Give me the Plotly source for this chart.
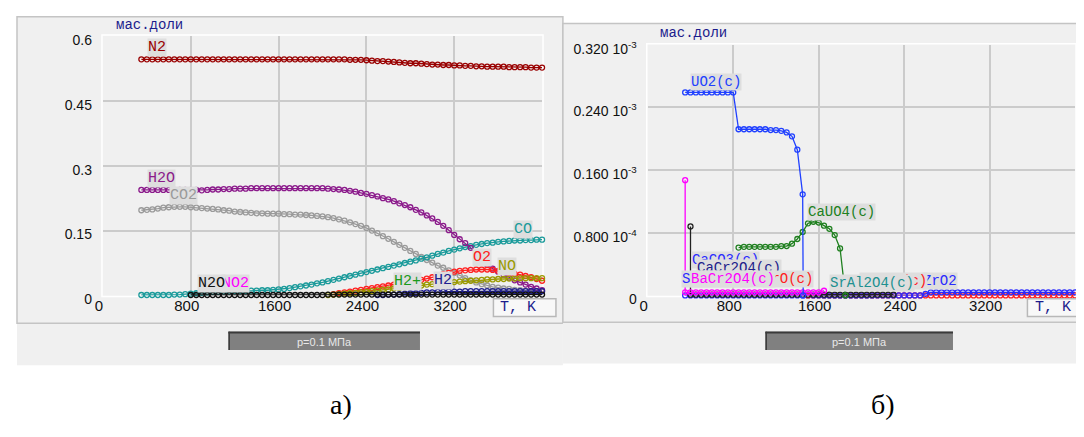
import plotly.graph_objects as go

OFF = 8  # the page body has an 8 px margin; positions below are page pixels
W, H = 1084 - OFF, 437 - 2 * OFF

# ---------------- panel а) : mass fractions of gas species ----------------
T_a = list(range(350, 4001, 50))  # temperature grid, K (74 points)

N2 = [0.546, 0.546, 0.546, 0.546, 0.546, 0.546, 0.546, 0.546, 0.546, 0.546,
      0.546, 0.546, 0.546, 0.546, 0.546, 0.546, 0.546, 0.546, 0.546, 0.546,
      0.546, 0.546, 0.546, 0.546, 0.546, 0.546, 0.546, 0.546, 0.546, 0.546,
      0.546, 0.546, 0.546, 0.546, 0.546, 0.546, 0.546, 0.546, 0.545, 0.545,
      0.545, 0.544, 0.543, 0.542, 0.542, 0.541, 0.540, 0.539, 0.538, 0.537,
      0.537, 0.536, 0.535, 0.534, 0.534, 0.533, 0.533, 0.532, 0.532, 0.531,
      0.531, 0.530, 0.530, 0.529, 0.529, 0.529, 0.529, 0.528, 0.528, 0.528,
      0.528, 0.527, 0.527, 0.527]

H2O = [0.244, 0.244, 0.244, 0.244, 0.244, 0.244, 0.244, 0.244, 0.244, 0.244,
       0.244, 0.243, 0.244, 0.245, 0.245, 0.246, 0.246, 0.247, 0.247, 0.247,
       0.248, 0.248, 0.248, 0.248, 0.248, 0.248, 0.248, 0.248, 0.248, 0.248,
       0.248, 0.248, 0.248, 0.248, 0.247, 0.246, 0.245, 0.244, 0.242, 0.240,
       0.237, 0.235, 0.232, 0.229, 0.225, 0.222, 0.218, 0.213, 0.209, 0.204,
       0.198, 0.192, 0.185, 0.178, 0.170, 0.161, 0.151, 0.140, 0.130, 0.121,
       0.110, 0.098, 0.085, 0.071, 0.062, 0.055, 0.048, 0.041, 0.035, 0.030,
       0.025, 0.020, 0.016, 0.012]

CO2 = [0.197, 0.198, 0.199, 0.201, 0.203, 0.204, 0.205, 0.205, 0.205, 0.204,
       0.203, 0.202, 0.201, 0.200, 0.199, 0.197, 0.196, 0.194, 0.193, 0.192,
       0.191, 0.190, 0.190, 0.189, 0.189, 0.189, 0.188, 0.188, 0.187, 0.187,
       0.186, 0.185, 0.184, 0.183, 0.181, 0.179, 0.176, 0.173, 0.169, 0.165,
       0.161, 0.156, 0.150, 0.144, 0.137, 0.131, 0.124, 0.117, 0.110, 0.103,
       0.096, 0.089, 0.082, 0.076, 0.069, 0.064, 0.058, 0.052, 0.046, 0.040,
       0.035, 0.030, 0.026, 0.023, 0.020, 0.018, 0.016, 0.015, 0.013, 0.012,
       0.011, 0.010, 0.009, 0.009]

CO = [0.001, 0.001, 0.001, 0.001, 0.001, 0.001, 0.002, 0.002, 0.003, 0.004,
      0.005, 0.006, 0.007, 0.008, 0.008, 0.009, 0.009, 0.010, 0.010, 0.010,
      0.011, 0.011, 0.012, 0.012, 0.013, 0.014, 0.015, 0.017, 0.019, 0.021,
      0.023, 0.025, 0.028, 0.030, 0.033, 0.036, 0.039, 0.042, 0.045, 0.048,
      0.051, 0.054, 0.057, 0.060, 0.063, 0.066, 0.069, 0.072, 0.075, 0.078,
      0.081, 0.085, 0.088, 0.092, 0.096, 0.099, 0.103, 0.106, 0.109, 0.112,
      0.114, 0.117, 0.119, 0.121, 0.122, 0.124, 0.125, 0.126, 0.127, 0.127,
      0.128, 0.128, 0.129, 0.129]

T_O2 = list(range(2100, 4001, 50))
O2 = [0.003, 0.005, 0.007, 0.009, 0.011, 0.013, 0.015, 0.017, 0.019, 0.021,
      0.023, 0.025, 0.027, 0.029, 0.031, 0.034, 0.036, 0.039, 0.042, 0.045,
      0.049, 0.052, 0.055, 0.057, 0.058, 0.059, 0.060, 0.060, 0.060, 0.059,
      0.057, 0.055, 0.052, 0.050, 0.048, 0.045, 0.042, 0.038, 0.034]

T_NO = list(range(2050, 4001, 50))
NO = [0.001, 0.002, 0.003, 0.004, 0.005, 0.006, 0.007, 0.008, 0.010, 0.011,
      0.013, 0.014, 0.016, 0.017, 0.019, 0.020, 0.022, 0.023, 0.025, 0.026,
      0.028, 0.029, 0.030, 0.031, 0.032, 0.033, 0.034, 0.035, 0.036, 0.037,
      0.037, 0.038, 0.038, 0.039, 0.039, 0.040, 0.040, 0.040, 0.040, 0.040]

T_H2 = list(range(2500, 4001, 50))
H2 = [0.001, 0.001, 0.002, 0.002, 0.003, 0.004, 0.005, 0.005, 0.006, 0.007,
      0.007, 0.008, 0.008, 0.009, 0.009, 0.009, 0.010, 0.010, 0.010, 0.010,
      0.010, 0.010, 0.010, 0.010, 0.010, 0.010, 0.010, 0.010, 0.010, 0.010,
      0.010]

T_N2O = list(range(800, 4001, 50))
N2O = [0.001, 0.001, 0.001, 0.001, 0.001, 0.001, 0.001, 0.001, 0.001, 0.001, 0.001,
       0.001, 0.001, 0.001, 0.001, 0.001, 0.001, 0.001, 0.001, 0.001, 0.001,
       0.001, 0.001, 0.001, 0.001, 0.002, 0.002, 0.002, 0.002, 0.002, 0.002,
       0.002, 0.002, 0.002, 0.002, 0.002, 0.002, 0.002, 0.002, 0.002, 0.002,
       0.002, 0.002, 0.002, 0.002, 0.002, 0.002, 0.002, 0.002, 0.002, 0.002,
       0.002, 0.002, 0.002, 0.002, 0.002, 0.002, 0.002, 0.002, 0.002, 0.002,
       0.002, 0.002, 0.002, 0.002]

# ---------------- panel б) : condensed phases, units of 10^-3 ----------------
T_UO2 = [350, 400, 450, 500, 550, 600, 650, 700, 750, 800,
         850, 900, 950, 1000, 1050, 1100, 1150, 1200, 1250, 1300,
         1350, 1400, 1450, 1455]
UO2 = [0.259, 0.259, 0.259, 0.259, 0.259, 0.259, 0.259, 0.259, 0.259, 0.259,
       0.212, 0.212, 0.212, 0.212, 0.212, 0.212, 0.211, 0.211, 0.210, 0.208,
       0.203, 0.186, 0.129, 0.000]

T_CaUO4 = list(range(850, 1851, 50))
CaUO4 = [0.061, 0.062, 0.062, 0.062, 0.062, 0.062, 0.062, 0.062, 0.063, 0.063,
         0.066, 0.072, 0.081, 0.092, 0.094, 0.093, 0.089, 0.085, 0.077, 0.060,
         0.000]

T_BaCr2O4 = [350, 350, 400, 450, 500, 550, 600, 650, 700, 750, 800, 850, 900, 950,
             1000, 1050, 1100, 1150, 1200, 1250, 1300, 1350, 1400, 1450, 1500,
             1550, 1600, 1650]
BaCr2O4 = [0.147, 0.004, 0.004, 0.004, 0.004, 0.004, 0.004, 0.004, 0.004, 0.004,
           0.004, 0.004, 0.004, 0.004, 0.004, 0.004, 0.004, 0.004, 0.004, 0.004,
           0.004, 0.004, 0.004, 0.004, 0.004, 0.004, 0.004, 0.006]

T_BLK = [400] + list(range(400, 2301, 50))
BLK = [0.088, 0.001, 0.001, 0.001, 0.001, 0.001, 0.001, 0.001, 0.001, 0.001,
       0.001, 0.001, 0.001, 0.001, 0.001, 0.001, 0.001, 0.001, 0.001, 0.001,
       0.001, 0.001, 0.001, 0.001, 0.001, 0.001, 0.001, 0.001, 0.001, 0.001,
       0.001, 0.001, 0.001, 0.001, 0.001, 0.001, 0.001, 0.001, 0.001, 0.001]

T_CaCO3 = list(range(350, 1501, 50))
CaCO3 = [0.000, 0.000, 0.000, 0.000, 0.000, 0.000, 0.000, 0.000, 0.000, 0.000,
         0.000, 0.000, 0.000, 0.000, 0.000, 0.000, 0.000, 0.000, 0.000, 0.000,
         0.000, 0.000, 0.000, 0.000]

T_SrAl2O4 = list(range(1650, 2101, 50))
SrAl2O4 = [0.000, 0.000, 0.000, 0.000, 0.000, 0.000, 0.000, 0.000, 0.000, 0.000]

T_RED = list(range(1500, 4001, 50))
RED = [0.000, 0.000, 0.000, 0.000, 0.000, 0.000, 0.000, 0.000, 0.000, 0.000,
       0.000, 0.000, 0.000, 0.000, 0.000, 0.000, 0.000, 0.000, 0.000, 0.000,
       0.000, 0.000, 0.000, 0.000, 0.000, 0.000, 0.000, 0.000, 0.000, 0.000,
       0.000, 0.000, 0.000, 0.000, 0.000, 0.000, 0.000, 0.000, 0.000, 0.000,
       0.000, 0.000, 0.000, 0.000, 0.000, 0.000, 0.000, 0.000, 0.000, 0.000,
       0.000]

T_ZrO2 = list(range(1550, 4001, 50))
ZrO2 = [0.000, 0.000, 0.000, 0.000, 0.000, 0.000, 0.000, 0.000, 0.000, 0.000,
        0.000, 0.000, 0.000, 0.000, 0.000, 0.000, 0.000, 0.000, 0.000, 0.000,
        0.000, 0.002, 0.004, 0.004, 0.004, 0.004, 0.004, 0.004, 0.004, 0.004,
        0.004, 0.004, 0.004, 0.004, 0.004, 0.004, 0.004, 0.004, 0.004, 0.004,
        0.004, 0.004, 0.004, 0.004, 0.004, 0.004, 0.004, 0.004, 0.004, 0.004]

# tick labels
X_TICKS = [0, 800, 1600, 2400, 3200]
X_TEXT = ["0", "800", "1600", "2400", "3200"]
YA_TICKS = [0, 0.15, 0.3, 0.45, 0.6]
YA_TEXT = ["0", "0.15", "0.3", "0.45", "0.6"]
YB_TICKS = [0, 0.08, 0.16, 0.24, 0.32]
YB_TEXT = ["0", "0.800 10<sup>-4</sup>", "0.160 10<sup>-3</sup>",
           "0.240 10<sup>-3</sup>", "0.320 10<sup>-3</sup>"]

PLOT_BG = "#dedede"
PANEL_BG = "#f0f0f0"
GRID = "#cbcbcb"
TITLE_BLUE = "#1c1c8c"
MONO = "Liberation Mono, DejaVu Sans Mono"


def px(x):
    return (x - OFF) / W


def py(y):
    return 1 - (y - OFF) / H


fig = go.Figure()


def add_series(x, y, color, xa, ya):
    fig.add_trace(go.Scatter(
        x=x, y=y, mode="lines+markers", xaxis=xa, yaxis=ya,
        line=dict(color=color, width=1.3),
        marker=dict(symbol="circle-open", size=5, color=color,
                    line=dict(width=1.3, color=color)),
        cliponaxis=False, showlegend=False, hoverinfo="skip"))


# panel а traces
add_series(T_a, CO2, "#9a9a9a", "x", "y")
add_series(T_a, CO, "#1a9a9a", "x", "y")
add_series(T_a, H2O, "#8b1a8b", "x", "y")
add_series(T_O2, O2, "#ff2020", "x", "y")
add_series(T_NO, NO, "#9a9a00", "x", "y")
add_series(T_H2, H2, "#202090", "x", "y")
add_series(T_a, N2, "#990000", "x", "y")
add_series(T_N2O, N2O, "#111111", "x", "y")

# panel б traces
add_series(T_CaCO3, CaCO3, "#2a2aff", "x2", "y2")
add_series(T_SrAl2O4, SrAl2O4, "#209090", "x2", "y2")
add_series(T_RED, RED, "#ff2020", "x2", "y2")
add_series(T_ZrO2, ZrO2, "#2a2aff", "x2", "y2")
add_series(T_BLK, BLK, "#222222", "x2", "y2")
add_series(T_BaCr2O4, BaCr2O4, "#ff00ff", "x2", "y2")
add_series(T_CaUO4, CaUO4, "#208020", "x2", "y2")
add_series(T_UO2, UO2, "#2040ff", "x2", "y2")

xcommon = dict(range=[0, 4000], tickvals=X_TICKS, ticktext=X_TEXT, showgrid=True,
               gridcolor=GRID, gridwidth=1.5, zeroline=False, showline=False,
               ticks="", tickfont=dict(family="Liberation Sans", size=15, color="#111"),
               ticklabelshift=-4, fixedrange=True)
ycommon = dict(showgrid=True, gridcolor=GRID, gridwidth=1.5, zeroline=False,
               showline=False, ticks="", ticklabelstandoff=10, ticklabelshift=4,
               tickfont=dict(family="Liberation Sans", size=14, color="#111"),
               fixedrange=True)

shapes = []
# panel frames
shapes.append(dict(type="rect", xref="paper", yref="paper", layer="below",
                   x0=px(9), x1=px(559), y0=py(331), y1=py(11),
                   fillcolor=PANEL_BG, line=dict(color="#c4c4c4", width=1.5)))
shapes.append(dict(type="rect", xref="paper", yref="paper", layer="below",
                   x0=px(559), x1=px(1083.5), y0=py(330), y1=py(18),
                   fillcolor=PANEL_BG, line=dict(color="#c4c4c4", width=1.5)))
# bottom strips
shapes.append(dict(type="rect", xref="paper", yref="paper", layer="below",
                   x0=px(9), x1=px(559), y0=py(375), y1=py(331.8),
                   fillcolor=PANEL_BG, line=dict(width=0)))
shapes.append(dict(type="rect", xref="paper", yref="paper", layer="below",
                   x0=px(559), x1=px(1084), y0=py(373), y1=py(330.8),
                   fillcolor=PANEL_BG, line=dict(width=0)))
# pressure buttons
for bx0, bx1 in [(222, 415), (763, 952)]:
    shapes.append(dict(type="rect", xref="paper", yref="paper", layer="below",
                       x0=px(bx0), x1=px(bx1), y0=py(359), y1=py(340),
                       fillcolor="#808080", line=dict(width=0)))
    shapes.append(dict(type="line", xref="paper", yref="paper", layer="below",
                       x0=px(bx0), x1=px(bx1), y0=py(340.8), y1=py(340.8),
                       line=dict(color="#3a3a3a", width=2)))
    shapes.append(dict(type="line", xref="paper", yref="paper", layer="below",
                       x0=px(bx0 + 0.8), x1=px(bx0 + 0.8), y0=py(359), y1=py(340),
                       line=dict(color="#3a3a3a", width=1.5)))
# "T, K" boxes
for bx0, bx1 in [(489, 552), (1027, 1083)]:
    shapes.append(dict(type="rect", xref="paper", yref="paper", layer="above",
                       x0=px(bx0), x1=px(bx1), y0=py(324), y1=py(305.5),
                       fillcolor="#f8f8f8", line=dict(color="#b8b8b8", width=1.5)))
# white border around plot areas
for x0, x1, y0, y1 in [(95.6, 538, 302, 31), (644.5, 1075, 302, 40)]:
    shapes.append(dict(type="rect", xref="paper", yref="paper", layer="below",
                       x0=px(x0 - 1), x1=px(x1 + 1), y0=py(y0 + 1), y1=py(y1 - 1),
                       fillcolor="rgba(0,0,0,0)", line=dict(color="white", width=1.5)))

ann = []


def label(text, x, y, color, xa, ya, size, xanchor="left"):
    ann.append(dict(text=text, x=x, y=y, xref=xa, yref=ya, showarrow=False,
                    xanchor=xanchor, yanchor="middle", bgcolor=PLOT_BG, borderpad=0,
                    font=dict(family=MONO, size=size, color=color)))


# panel а labels
label("NO2", 1072, 0.0285, "#ff00ff", "x", "y", 15)
label("N2O", 854, 0.0285, "#111111", "x", "y", 15)
label("N2", 401, 0.573, "#990000", "x", "y", 15)
label("H2O", 401, 0.270, "#8b1a8b", "x", "y", 15)
label("CO2", 600, 0.230, "#9a9a9a", "x", "y", 15)
label("H2+", 2644, 0.032, "#1a9a1a", "x", "y", 15)
label("H2", 3006, 0.034, "#202090", "x", "y", 15)
label("O2", 3358, 0.0886, "#ff2020", "x", "y", 15)
label("NO", 3593, 0.066, "#9a9a00", "x", "y", 15)
label("CO", 3738, 0.153, "#1a9a9a", "x", "y", 15)

# panel б labels
label("ZrO2", 2569, 0.0180, "#2a2aff", "x2", "y2", 14)
label("Cr2O3(c)", 2620, 0.0180, "#ff2020", "x2", "y2", 14, "right")
label("SrAl2O4(c)", 1696, 0.0160, "#209090", "x2", "y2", 14)
label("CaCO3(c)", 404, 0.045, "#2a2aff", "x2", "y2", 14)
label("CaCr2O4(c)", 451, 0.0354, "#20208a", "x2", "y2", 14)
label("SrCO3(c)", 311, 0.0215, "#2a2aff", "x2", "y2", 14)
label("CrO(c)", 1556, 0.0215, "#ff2020", "x2", "y2", 14, "right")
label("BaCr2O4(c)", 395, 0.0215, "#ff00ff", "x2", "y2", 14)
label("UO2(c)", 395, 0.272, "#2040ff", "x2", "y2", 14)
label("CaUO4(c)", 1491, 0.106, "#208020", "x2", "y2", 14)


def paper_text(text, x, y, size, color, family, xanchor="left"):
    ann.append(dict(text=text, x=px(x), y=py(y), xref="paper", yref="paper",
                    showarrow=False, xanchor=xanchor, yanchor="middle",
                    font=dict(family=family, size=size, color=color)))


paper_text("мас.доли", 107, 20, 14, TITLE_BLUE, MONO)
paper_text("мас.доли", 655, 27.5, 14, TITLE_BLUE, MONO)
paper_text("T, K", 494, 315, 15, TITLE_BLUE, MONO)
paper_text("T, K", 1033, 315, 15, TITLE_BLUE, MONO)
paper_text("p=0.1 МПа", 318.5, 350.5, 11, "#e8e8e8", "Liberation Sans Narrow, Liberation Sans", "center")
paper_text("p=0.1 МПа", 857.5, 350.5, 11, "#e8e8e8", "Liberation Sans Narrow, Liberation Sans", "center")
paper_text("а)", 335, 416, 28, "#000000", "Liberation Serif", "center")
paper_text("б)", 881, 416, 28, "#000000", "Liberation Serif", "center")

fig.update_layout(
    width=W, height=H, margin=dict(l=0, r=0, t=0, b=0),
    paper_bgcolor="white", plot_bgcolor=PLOT_BG,
    font=dict(family="Liberation Sans", size=13, color="#111"),
    showlegend=False,
    xaxis=dict(domain=[px(95.6), px(538)], anchor="y", **xcommon),
    yaxis=dict(domain=[py(302), py(31)], anchor="x", range=[0, 0.6],
               tickvals=YA_TICKS, ticktext=YA_TEXT, **ycommon),
    xaxis2=dict(domain=[px(644.5), px(1075)], anchor="y2", **xcommon),
    yaxis2=dict(domain=[py(302), py(40)], anchor="x2", range=[0, 0.32],
                tickvals=YB_TICKS, ticktext=YB_TEXT, **ycommon),
    shapes=shapes, annotations=ann,
)

fig.write_html("out.html")
